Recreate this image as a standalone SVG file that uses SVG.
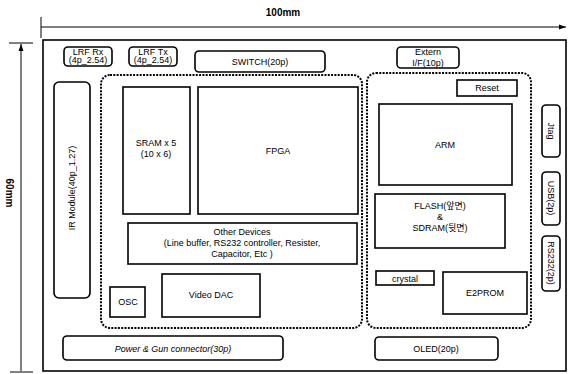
<svg xmlns="http://www.w3.org/2000/svg" width="568" height="374" viewBox="0 0 568 374">
<style>
text{font-family:"Liberation Sans","Noto Sans CJK KR",sans-serif;font-size:9px;fill:#000;text-anchor:middle}
.box{fill:#fff;stroke:#000;stroke-width:1.6}
.con{fill:#fff;stroke:#000;stroke-width:1.6}
.dot{fill:none;stroke:#000;stroke-width:2;stroke-dasharray:2 1.3}
.dim{stroke:#000;stroke-width:1;fill:none}
.big{font-size:10px;font-weight:bold}
</style>
<defs>
<marker id="ah" markerWidth="8" markerHeight="6" refX="7" refY="3" orient="auto" markerUnits="userSpaceOnUse">
<path d="M0,0.5 L7,3 L0,5.5 Z" fill="#000"/>
</marker>
</defs>
<rect width="568" height="374" fill="#fff"/>
<g id="dimensions">
<line class="dim" x1="41" y1="27" x2="566" y2="27" marker-end="url(#ah)"/>
<line class="dim" x1="41" y1="17" x2="41" y2="38" stroke-width="1.5"/>
<text x="283" y="16" class="big">100mm</text>
<line class="dim" x1="21" y1="371" x2="21" y2="44" marker-end="url(#ah)"/>
<line class="dim" x1="9" y1="43" x2="33" y2="43" stroke-width="1.5"/>
<line class="dim" x1="10" y1="372" x2="33" y2="372" stroke-width="1.5"/>
<text transform="translate(6,193) rotate(90)" class="big">60mm</text>
</g>
<g id="board">
<rect x="43" y="40" width="523" height="331" fill="none" stroke="#000" stroke-width="1.6"/>
</g>
<g id="regions">
<rect class="dot" x="101" y="75" width="261" height="253" rx="9"/>
<rect class="dot" x="367" y="73" width="164" height="255" rx="9"/>
</g>
<g id="connectors"></g>
<g id="lrf-rx"><rect class="con" x="64" y="47" width="48" height="19" rx="4"/><text x="88" y="54.5">LRF Rx</text><text x="88" y="63">(4p_2.54)</text></g>
<g id="lrf-tx"><rect class="con" x="129" y="47" width="48" height="19" rx="4"/><text x="153" y="54.5">LRF Tx</text><text x="153" y="63">(4p_2.54)</text></g>
<g id="switch"><rect class="con" x="195" y="51" width="130" height="21" rx="4"/><text x="260" y="64.5">SWITCH(20p)</text></g>
<g id="extern"><rect class="con" x="397" y="47" width="62" height="21" rx="4"/><text x="428" y="55">Extern</text><text x="428" y="65.5">I/F(10p)</text></g>
<g id="ir-module"><rect class="con" x="54" y="82" width="36" height="216" rx="5"/><text transform="translate(75,188) rotate(-90)">IR Module(40p_1.27)</text></g>
<g id="sram"><rect class="box" x="123" y="87" width="67" height="127"/><text x="156" y="146">SRAM x 5</text><text x="156" y="157">(10 x 6)</text></g>
<g id="fpga"><rect class="box" x="198" y="87" width="160" height="127"/><text x="278" y="154">FPGA</text></g>
<g id="other"><rect class="box" x="128" y="223" width="229" height="41"/><text x="242" y="235">Other Devices</text><text x="242" y="246">(Line buffer, RS232 controller, Resister,</text><text x="242" y="257">Capacitor, Etc )</text></g>
<g id="osc"><rect class="box" x="110" y="287" width="35" height="30"/><text x="128" y="305">OSC</text></g>
<g id="video-dac"><rect class="box" x="162" y="274" width="98" height="43"/><text x="211" y="298">Video DAC</text></g>
<g id="power"><rect class="con" x="63" y="336" width="220" height="24" rx="4"/><text x="173" y="351.5" font-style="italic">Power &amp; Gun connector(30p)</text></g>
<g id="reset"><rect class="box" x="457" y="80" width="60" height="16"/><text x="487" y="91">Reset</text></g>
<g id="arm"><rect class="box" x="379" y="104" width="133" height="81"/><text x="445" y="148">ARM</text></g>
<g id="flash"><rect class="box" x="375" y="194" width="130" height="54"/><text x="440" y="209">FLASH(앞면)</text><text x="440" y="220">&amp;</text><text x="440" y="231">SDRAM(뒷면)</text></g>
<g id="crystal"><rect class="box" x="376" y="271" width="58" height="14"/><text x="405" y="281.5">crystal</text></g>
<g id="e2prom"><rect class="box" x="443" y="272" width="84" height="42"/><text x="485" y="296">E2PROM</text></g>
<g id="oled"><rect class="con" x="375" y="337" width="123" height="23" rx="4"/><text x="436" y="352">OLED(20p)</text></g>
<g id="jtag"><rect class="con" x="542" y="105" width="18" height="52" rx="4"/><text transform="translate(548,131) rotate(90)">Jtag</text></g>
<g id="usb"><rect class="con" x="542" y="172" width="18" height="53" rx="4"/><text transform="translate(548,198) rotate(90)">USB(2p)</text></g>
<g id="rs232"><rect class="con" x="542" y="236" width="18" height="55" rx="4"/><text transform="translate(548,263) rotate(90)">RS232(2p)</text></g>
</svg>
